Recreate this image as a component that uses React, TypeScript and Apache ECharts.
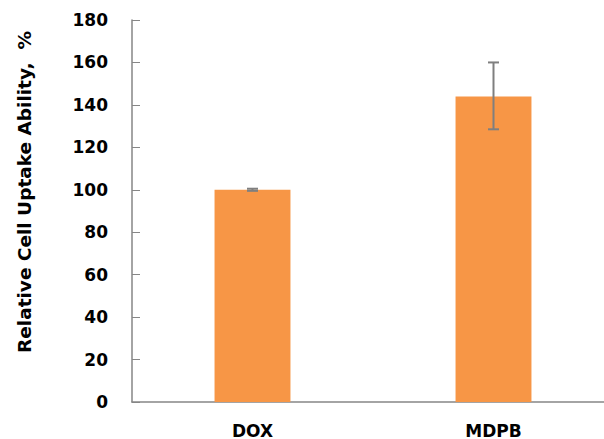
import React, { useEffect, useRef } from "react";
import * as echarts from "echarts";

const categories = ["DOX", "MDPB"];
const values = [100, 144];
const errLow = [99.5, 128.5];
const errHigh = [100.5, 160];
const yTicks = { min: 0, max: 180, interval: 20 };
const yTitle = "Relative Cell Uptake Ability,  %";

export default function App() {
  const ref = useRef<HTMLDivElement>(null);
  useEffect(() => {
    if (!ref.current) return;
    const chart = echarts.init(ref.current, null, { renderer: "svg" });
    const font = "DejaVu Sans";
    chart.setOption({
      animation: false,
      grid: { left: 132, top: 20, width: 482, height: 382, containLabel: false },
      graphic: [
        {
          type: "text",
          x: 24,
          y: 192,
          rotation: Math.PI / 2,
          style: {
            text: yTitle,
            fill: "#000",
            fontFamily: font,
            fontWeight: "bold",
            fontSize: 18.5,
            align: "center",
            verticalAlign: "middle",
          },
        },
      ],
      xAxis: {
        type: "category",
        data: categories,
        axisLine: { lineStyle: { color: "#868686", width: 1.5 } },
        axisTick: { show: false },
        axisLabel: { color: "#000", fontFamily: font, fontWeight: "bold", fontSize: 17, margin: 20 },
      },
      yAxis: {
        type: "value",
        min: yTicks.min,
        max: yTicks.max,
        interval: yTicks.interval,
        axisLine: { show: true, lineStyle: { color: "#868686", width: 1.5 } },
        axisTick: { show: true, inside: true, length: 8, lineStyle: { color: "#868686" } },
        splitLine: { show: false },
        axisLabel: { color: "#000", fontFamily: font, fontWeight: "bold", fontSize: 17, margin: 24 },
      },
      series: [
        {
          type: "bar",
          data: values,
          barWidth: "31.5%",
          itemStyle: { color: "#F79646" },
        },
        {
          type: "custom",
          data: categories.map((_, i) => [i, errLow[i], errHigh[i]]),
          renderItem: (params: any, api: any) => {
            const x = api.value(0);
            const lo = api.coord([x, api.value(1)]);
            const hi = api.coord([x, api.value(2)]);
            const half = 5.5;
            const style = { stroke: "#7f7f7f", lineWidth: 2 };
            return {
              type: "group",
              children: [
                { type: "line", shape: { x1: hi[0], y1: hi[1], x2: lo[0], y2: lo[1] }, style },
                { type: "line", shape: { x1: hi[0] - half, y1: hi[1], x2: hi[0] + half, y2: hi[1] }, style },
                { type: "line", shape: { x1: lo[0] - half, y1: lo[1], x2: lo[0] + half, y2: lo[1] }, style },
              ],
            };
          },
          z: 10,
        },
      ],
    });
    return () => chart.dispose();
  }, []);
  return (
    <div style={{ position: "absolute", left: 0, top: 0, width: 604, height: 439, overflow: "hidden", background: "#fff" }}>
      <div ref={ref} style={{ width: 620, height: 439 }} />
    </div>
  );
}
